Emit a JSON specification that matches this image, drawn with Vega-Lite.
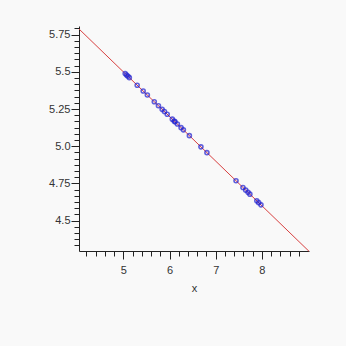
{
  "$schema": "https://vega.github.io/schema/vega-lite/v6.json",
  "autosize": "none",
  "width": 230,
  "height": 225,
  "padding": {"left": 79, "top": 26, "right": 37, "bottom": 95},
  "background": "#f9f9f9",
  "config": {
    "view": {"stroke": null},
    "axis": {
      "domainColor": "#222222",
      "tickColor": "#222222",
      "labelColor": "#333333",
      "labelFont": "Liberation Sans",
      "labelFontSize": 11,
      "titleFont": "Liberation Sans",
      "titleFontSize": 11,
      "titleFontWeight": "normal",
      "titleColor": "#333333",
      "grid": false,
      "labelOverlap": false,
      "labelFlush": false
    }
  },
  "datasets": {
    "fit": [
      {"x": 4.04, "y": 5.788},
      {"x": 9.02, "y": 4.294}
    ],
    "pts": [
      {"x": 5.04, "y": 5.488},
      {"x": 5.07, "y": 5.479},
      {"x": 5.10, "y": 5.470},
      {"x": 5.13, "y": 5.461},
      {"x": 5.30, "y": 5.410},
      {"x": 5.43, "y": 5.371},
      {"x": 5.52, "y": 5.344},
      {"x": 5.67, "y": 5.299},
      {"x": 5.76, "y": 5.272},
      {"x": 5.84, "y": 5.248},
      {"x": 5.89, "y": 5.233},
      {"x": 5.95, "y": 5.215},
      {"x": 6.06, "y": 5.182},
      {"x": 6.10, "y": 5.170},
      {"x": 6.12, "y": 5.164},
      {"x": 6.17, "y": 5.149},
      {"x": 6.25, "y": 5.125},
      {"x": 6.30, "y": 5.110},
      {"x": 6.43, "y": 5.071},
      {"x": 6.68, "y": 4.996},
      {"x": 6.81, "y": 4.957},
      {"x": 7.44, "y": 4.768},
      {"x": 7.59, "y": 4.723},
      {"x": 7.65, "y": 4.705},
      {"x": 7.70, "y": 4.690},
      {"x": 7.74, "y": 4.678},
      {"x": 7.89, "y": 4.633},
      {"x": 7.93, "y": 4.621},
      {"x": 7.98, "y": 4.606}
    ]
  },
  "encoding": {
    "x": {
      "field": "x",
      "type": "quantitative",
      "title": "x",
      "scale": {"domain": [4.04, 9.02], "nice": false, "zero": false},
      "axis": {
        "values": [4.2, 4.4, 4.6, 4.8, 5, 5.2, 5.4, 5.6, 5.8, 6, 6.2, 6.4, 6.6, 6.8, 7, 7.2, 7.4, 7.6, 7.8, 8, 8.2, 8.4, 8.6, 8.8],
        "labelExpr": "abs(datum.value - round(datum.value)) < 0.001 ? '' + round(datum.value) : ''",
        "tickSize": {"condition": {"test": "abs(datum.value - round(datum.value)) < 0.001", "value": 8}, "value": 5},
        "labelPadding": 5,
        "titlePadding": 7
      }
    },
    "y": {
      "field": "y",
      "type": "quantitative",
      "title": null,
      "scale": {"domain": [4.296, 5.808], "nice": false, "zero": false},
      "axis": {
        "values": [4.333333, 4.375, 4.416667, 4.458333, 4.5, 4.541667, 4.583333, 4.625, 4.666667, 4.708333, 4.75, 4.791667, 4.833333, 4.875, 4.916667, 4.958333, 5.0, 5.041667, 5.083333, 5.125, 5.166667, 5.208333, 5.25, 5.291667, 5.333333, 5.375, 5.416667, 5.458333, 5.5, 5.541667, 5.583333, 5.625, 5.666667, 5.708333, 5.75, 5.791667],
        "labelExpr": "abs(datum.value * 4 - round(datum.value * 4)) < 0.001 ? (abs(datum.value - 5) < 0.001 ? '5.0' : '' + round(datum.value * 100) / 100) : ''",
        "tickSize": {"condition": {"test": "abs(datum.value * 4 - round(datum.value * 4)) < 0.001", "value": 8}, "value": 5},
        "labelPadding": 1
      }
    }
  },
  "layer": [
    {
      "data": {"name": "fit"},
      "mark": {"type": "line", "color": "#d84040", "strokeWidth": 1}
    },
    {
      "data": {"name": "pts"},
      "mark": {"type": "point", "shape": "circle", "filled": false, "color": "#2020d0", "size": 16, "strokeWidth": 1.6}
    }
  ]
}
